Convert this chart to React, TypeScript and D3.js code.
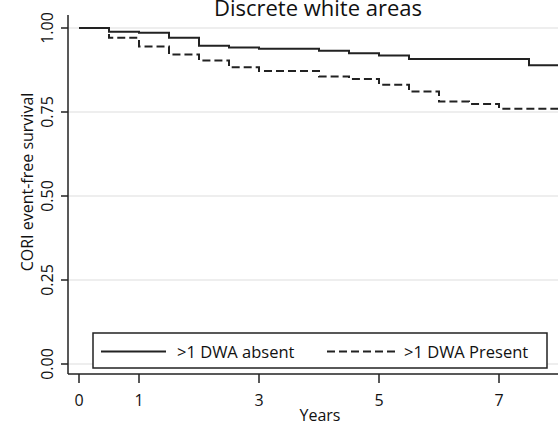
import React from "react";
import * as d3 from "d3";

// Kaplan–Meier step estimates (time in years, survival probability)
const absentTimes = [0, 0.5, 1.0, 1.5, 2.0, 2.5, 3.0, 4.0, 4.5, 5.0, 5.5, 7.5, 8.5];
const absentSurv = [1.0, 0.989, 0.986, 0.971, 0.947, 0.942, 0.938, 0.932, 0.925, 0.918, 0.908, 0.889, 0.889];

const presentTimes = [0, 0.5, 1.0, 1.5, 2.0, 2.5, 3.0, 4.0, 4.5, 5.0, 5.5, 6.0, 6.5, 7.0, 8.5];
const presentSurv = [1.0, 0.971, 0.945, 0.921, 0.903, 0.883, 0.872, 0.856, 0.848, 0.831, 0.811, 0.781, 0.774, 0.760, 0.760];

const xTicks = [0, 1, 3, 5, 7];
const yTicks = [0, 0.25, 0.5, 0.75, 1.0];

const title = "Discrete white areas";
const xLabel = "Years";
const yLabel = "CORI event-free survival";
const seriesNames = [">1 DWA absent", ">1 DWA Present"];

const W = 558;
const H = 427;
const FONT = "'Open Sans', 'Noto Sans', sans-serif";
const INK = "#222";

export default function App() {
  const plotLeft = 68;
  const plotRight = 572;
  const x = d3.scaleLinear().domain([0, 1]).range([79, 139]);
  const y = d3.scaleLinear().domain([0, 1]).range([364, 28]);
  const axisY = 374;

  const line = d3
    .line<[number, number]>()
    .x((d) => x(d[0]))
    .y((d) => y(d[1]))
    .curve(d3.curveStepAfter);

  const absentPts = absentTimes.map((t, i) => [t, absentSurv[i]] as [number, number]);
  const presentPts = presentTimes.map((t, i) => [t, presentSurv[i]] as [number, number]);

  const legendTop = 333;
  const legendBottom = 368;
  const legendLeft = 93;
  const legendRight = 547;
  const legendMid = (legendTop + legendBottom) / 2 + 1;

  return (
    <svg
      width={W}
      height={H}
      viewBox={`0 0 ${W} ${H}`}
      style={{ position: "absolute", left: 0, top: 0, background: "#fff", overflow: "hidden" }}
      fontFamily={FONT}
    >
      <rect x={0} y={0} width={W} height={H} fill="#fff" />
      {/* title */}
      <text x={318} y={16} textAnchor="middle" fontSize={22} fill="#111">
        {title}
      </text>

      {/* horizontal gridlines */}
      {yTicks.map((t) => (
        <line key={`g${t}`} x1={plotLeft} x2={plotRight} y1={y(t)} y2={y(t)} stroke="#e8e8e8" strokeWidth={1.5} />
      ))}

      {/* axes */}
      <line x1={plotLeft} x2={plotLeft} y1={15} y2={axisY} stroke={INK} strokeWidth={1.5} />
      <line x1={plotLeft} x2={plotRight} y1={axisY} y2={axisY} stroke={INK} strokeWidth={1.5} />

      {/* y ticks + labels */}
      {yTicks.map((t) => (
        <g key={`y${t}`}>
          <line x1={plotLeft - 7} x2={plotLeft} y1={y(t)} y2={y(t)} stroke={INK} strokeWidth={1.5} />
          <text
            transform={`translate(53,${y(t)}) rotate(-90)`}
            textAnchor="middle"
            fontSize={16}
            fill="#111"
          >
            {t.toFixed(2)}
          </text>
        </g>
      ))}

      {/* x ticks + labels */}
      {xTicks.map((t) => (
        <g key={`x${t}`}>
          <line x1={x(t)} x2={x(t)} y1={axisY} y2={axisY + 9} stroke={INK} strokeWidth={1.5} />
          <text x={x(t)} y={406} textAnchor="middle" fontSize={16} fill="#111">
            {t}
          </text>
        </g>
      ))}

      <text x={320} y={421} textAnchor="middle" fontSize={16} fill="#111">
        {xLabel}
      </text>
      <text transform="translate(33,182) rotate(-90)" textAnchor="middle" fontSize={16} fill="#111">
        {yLabel}
      </text>

      {/* survival curves */}
      <path d={line(presentPts) ?? ""} fill="none" stroke={INK} strokeWidth={2} strokeDasharray="8 4" />
      <path d={line(absentPts) ?? ""} fill="none" stroke={INK} strokeWidth={2} />

      {/* legend */}
      <rect
        x={legendLeft}
        y={legendTop}
        width={legendRight - legendLeft}
        height={legendBottom - legendTop}
        fill="#fff"
        stroke={INK}
        strokeWidth={1.5}
      />
      <line x1={101} x2={166} y1={legendMid} y2={legendMid} stroke={INK} strokeWidth={2} />
      <text x={177} y={358} fontSize={16.5} fill="#111">
        {seriesNames[0]}
      </text>
      <line x1={327} x2={395} y1={legendMid} y2={legendMid} stroke={INK} strokeWidth={2} strokeDasharray="8 4" />
      <text x={404} y={358} fontSize={16.5} fill="#111">
        {seriesNames[1]}
      </text>
    </svg>
  );
}
